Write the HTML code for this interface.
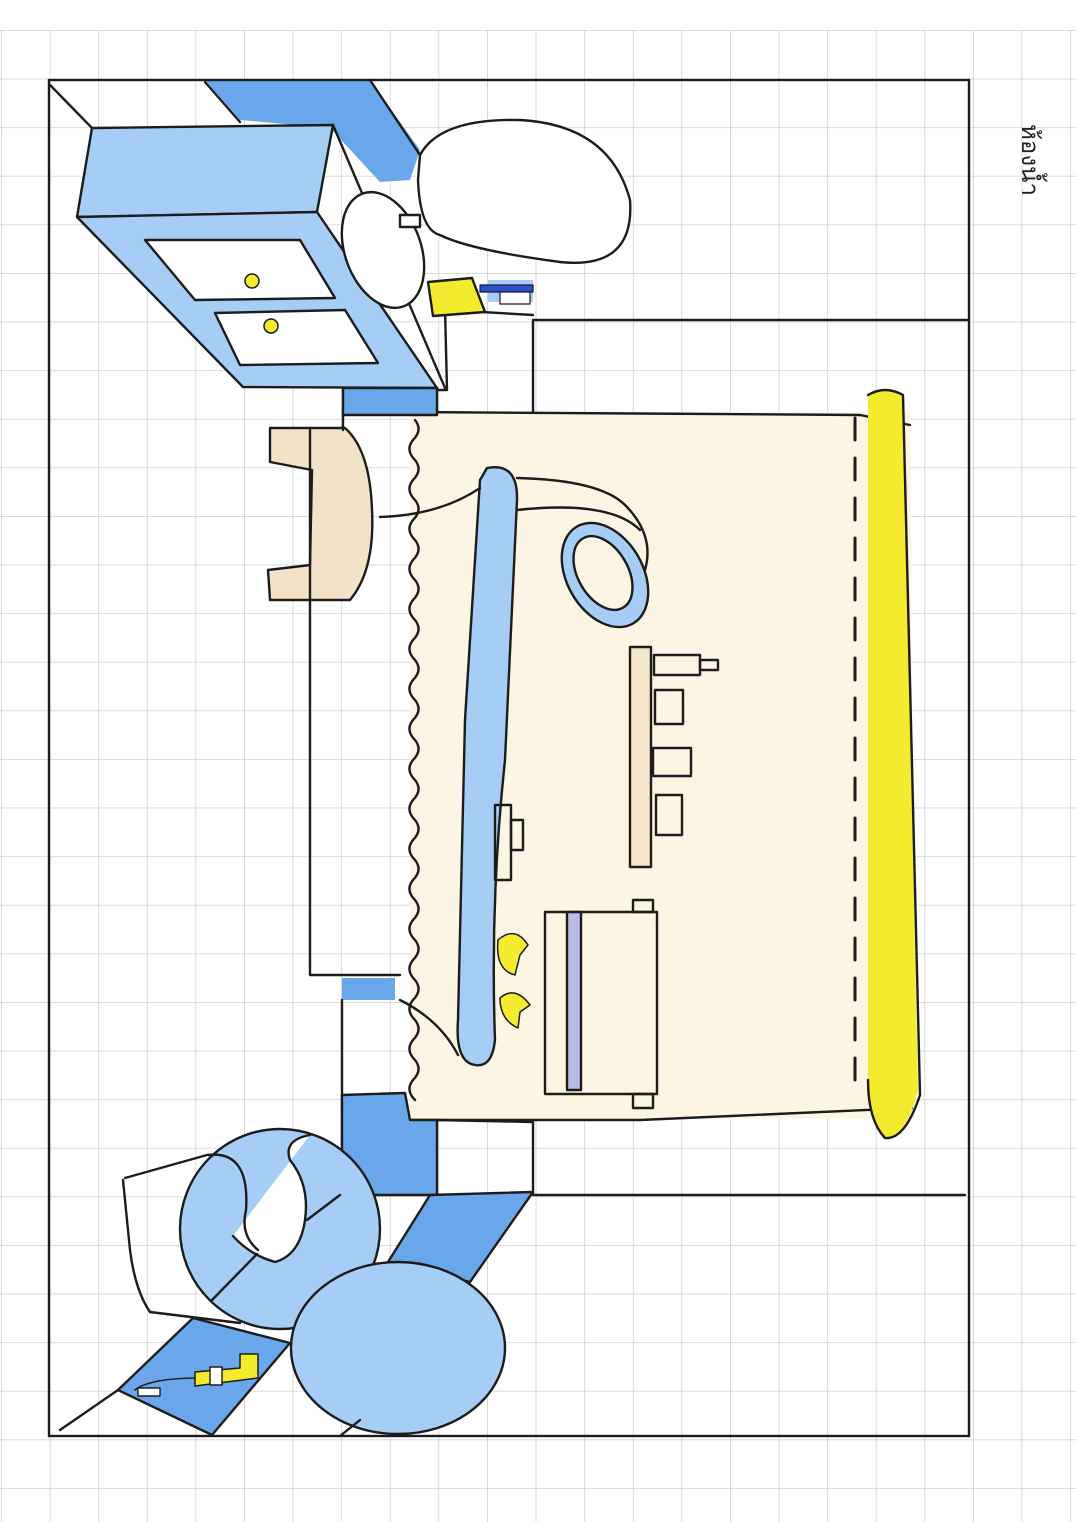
<!DOCTYPE html>
<html><head><meta charset="utf-8"><style>
html,body{margin:0;padding:0;background:#fff;}
svg{display:block;}
</style></head><body>
<svg width="1076" height="1522" viewBox="0 0 1076 1522" xmlns="http://www.w3.org/2000/svg">
<defs>
<pattern id="g" x="1" y="30" width="48.6" height="48.6" patternUnits="userSpaceOnUse">
<path d="M0 0H48.6M0 0V48.6" stroke="#cfcfcf" stroke-width="1.6" fill="none"/>
</pattern>
</defs>
<rect x="0" y="30" width="1076" height="1492" fill="url(#g)"/>
<rect x="0" y="0" width="1076" height="29" fill="#fff"/>

<g stroke="#1c1c1c" stroke-width="2.4" fill="none" stroke-linecap="round" stroke-linejoin="round">
<!-- tub cream -->
<path d="M410 412 L910 412 L915 1118 L410 1120 Z" fill="#fdf5e3" stroke="none"/>
<path d="M410 412 L860 415 L910 425" />
<path d="M410 1120 L640 1120 L912 1108"/>
<path d="M415 420 q8 10 -2 20 q-8 10 2 20 q8 10 -2 20 q-8 10 2 20 q8 10 -2 20 q-8 10 2 20 q8 10 -2 20 q-8 10 2 20 q8 10 -2 20 q-8 10 2 20 q8 10 -2 20 q-8 10 2 20 q8 10 -2 20 q-8 10 2 20 q8 10 -2 20 q-8 10 2 20 q8 10 -2 20 q-8 10 2 20 q8 10 -2 20 q-8 10 2 20 q8 10 -2 20 q-8 10 2 20 q8 10 -2 20 q-8 10 2 20 q8 10 -2 20 q-8 10 2 20 q8 10 -2 20 q-8 10 2 20 q8 10 -2 20 q-8 10 2 20 q8 10 -2 20 q-8 10 2 20 q8 10 -2 20 q-8 10 2 20"/>
<!-- yellow strip -->
<path d="M868 395 Q885 385 903 395 L918 1090 Q905 1140 885 1138 Q868 1120 868 1080 Z" fill="#f4ea2e" stroke="none"/>
<path d="M868 395 Q885 385 903 395 L920 1095 Q905 1140 885 1138 Q868 1120 868 1080"/>
<line x1="855" y1="418" x2="855" y2="1090" stroke-dasharray="22 18" stroke-width="3"/>
<!-- handle/bar -->
<path d="M487 468 Q518 462 517 500 L505 760 Q490 900 495 1040 Q492 1068 475 1065 Q455 1062 458 1020 L465 720 L480 480 Z" fill="#a6cdf5"/>
<path d="M517 478 Q600 480 625 505 Q655 535 645 570"/>
<path d="M517 510 Q610 500 640 530"/>
<path d="M480 488 Q440 515 380 517"/>
<path d="M400 1000 Q440 1020 458 1055"/>
<ellipse cx="605" cy="575" rx="38" ry="56" transform="rotate(-30 605 575)" fill="#a6cdf5"/>
<ellipse cx="603" cy="573" rx="25" ry="40" transform="rotate(-30 603 573)" fill="#fdf5e3"/>
<!-- shelf -->
<rect x="630" y="647" width="21" height="220" fill="#f5e6cc"/>
<rect x="654" y="655" width="46" height="20"/><rect x="700" y="660" width="18" height="10"/>
<rect x="655" y="690" width="28" height="34"/>
<rect x="653" y="748" width="38" height="28"/>
<rect x="656" y="795" width="26" height="40"/>
<rect x="495" y="805" width="16" height="75"/><rect x="511" y="820" width="12" height="30"/>
<!-- towel -->
<rect x="545" y="912" width="112" height="182" fill="#fdf5e3"/>
<rect x="567" y="912" width="14" height="178" fill="#b9bde6"/>
<rect x="633" y="900" width="20" height="12"/><rect x="633" y="1094" width="20" height="14"/>
<!-- ducks -->
<path d="M498 940 Q515 925 528 945 L520 955 L515 975 Q495 970 498 940Z" fill="#f4ea2e" stroke-width="1.5"/>
<path d="M500 998 Q515 985 530 1005 L520 1012 L518 1028 Q500 1020 500 998Z" fill="#f4ea2e" stroke-width="1.5"/>
</g>

<g stroke="#1c1c1c" stroke-width="2.4" fill="none" stroke-linecap="round" stroke-linejoin="round">
<!-- top band dark blue -->
<path d="M205 80 L370 80 L420 150 L410 180 L380 182 L330 128 L240 120 Z" fill="#6aa7ea" stroke="none"/>
<path d="M370 80 L420 155"/>
<path d="M205 82 L240 122"/>
<!-- cabinet -->
<path d="M92 128 L333 125 L317 212 L77 217 Z" fill="#a6cdf5"/>
<path d="M77 217 L243 387 L437 388 L317 212 Z" fill="#a6cdf5"/>
<path d="M145 240 L300 240 L335 298 L195 300 Z" fill="#fff"/>
<path d="M215 313 L345 310 L378 363 L240 365 Z" fill="#fff"/>
<circle cx="252" cy="281" r="7" fill="#f4ea2e" stroke-width="1.5"/>
<circle cx="271" cy="326" r="7" fill="#f4ea2e" stroke-width="1.5"/>
<path d="M50 85 L92 128"/>
<path d="M333 125 L445 388"/>
<path d="M343 388 L437 388 L437 415 L343 415 Z" fill="#6aa7ea"/>
<ellipse cx="383" cy="250" rx="38" ry="60" transform="rotate(-20 383 250)" fill="#fff"/>
<!-- toilet top -->
<path d="M420 155 Q440 118 520 120 Q610 125 630 200 Q635 270 560 262 Q470 250 440 235 Q420 230 418 180 Z" fill="#fff"/>
<rect x="400" y="215" width="20" height="12" fill="#fff"/>
<path d="M445 308 L447 390 L437 390"/>
<path d="M447 310 L533 315"/>
<path d="M533 320 L968 320"/>
<path d="M533 320 L533 412"/>
<!-- toothbrush -->
<rect x="488" y="280" width="45" height="22" fill="#a6cdf5" stroke="none"/>
<path d="M428 282 L472 278 L485 312 L433 316 Z" fill="#f4ea2e"/>
<rect x="480" y="285" width="53" height="7" fill="#2a4fd1" stroke-width="1.2"/>
<rect x="500" y="292" width="30" height="12" fill="#fff" stroke-width="1.2"/>
<!-- chair -->
<path d="M270 428 L345 428 Q370 450 372 510 Q375 570 350 600 L270 600 L268 570 L310 565 L312 470 L270 462 Z" fill="#f2e3c8"/>
<path d="M310 430 L310 975 L400 975"/>
<path d="M343 415 L343 430"/>
</g>

<g stroke="#1c1c1c" stroke-width="2.4" fill="none" stroke-linecap="round" stroke-linejoin="round">
<!-- bottom left -->
<path d="M342 978 L395 978 L395 1000 L342 1000 Z" fill="#6aa7ea" stroke="none"/>
<path d="M342 1000 L342 1195"/>
<path d="M342 1095 L405 1093 L410 1120 L437 1120 L437 1195 L342 1195 Z" fill="#6aa7ea"/>
<path d="M437 1120 L533 1122 L533 1195 L965 1195"/>
<path d="M430 1195 L533 1192 L470 1282 L388 1262 Z" fill="#6aa7ea"/>
<path d="M125 1178 L207 1155"/>
<path d="M123 1180 L130 1250 Q135 1290 150 1312"/>
<path d="M150 1312 L240 1323"/>
<circle cx="280" cy="1229" r="100" fill="#a6cdf5"/>
<path d="M233 1236 Q250 1255 275 1262 Q300 1255 305 1220 Q310 1185 290 1160 Q283 1140 310 1135" fill="#fff"/>
<path d="M208 1155 Q250 1150 246 1210 Q240 1235 258 1250" fill="none"/>
<path d="M340 1195 L307 1220"/>
<path d="M257 1254 L212 1300"/>
<ellipse cx="398" cy="1348" rx="107" ry="86" fill="#a6cdf5"/>
<path d="M193 1318 L290 1343 L212 1435 L118 1390 Z" fill="#6aa7ea"/>
<path d="M60 1430 L118 1390"/>
<path d="M340 1436 L360 1420"/>
<path d="M135 1390 Q150 1378 200 1378" stroke-width="1.6"/>
<rect x="138" y="1388" width="22" height="8" fill="#fff" stroke-width="1.4"/>
<path d="M195 1372 L240 1368 L240 1354 L258 1354 L258 1378 L195 1386 Z" fill="#f4ea2e" stroke-width="1.5"/>
<rect x="210" y="1367" width="12" height="18" fill="#fff" stroke-width="1.4"/>
</g>

<rect x="49" y="80" width="920" height="1356" fill="none" stroke="#1c1c1c" stroke-width="2.4"/>

<text x="0" y="0" transform="translate(1022,160) rotate(90)" font-family="'Liberation Sans','Noto Sans CJK SC',sans-serif" font-size="24" fill="#222" text-anchor="middle">ห้องน้ำ</text>
</svg>
</body></html>
